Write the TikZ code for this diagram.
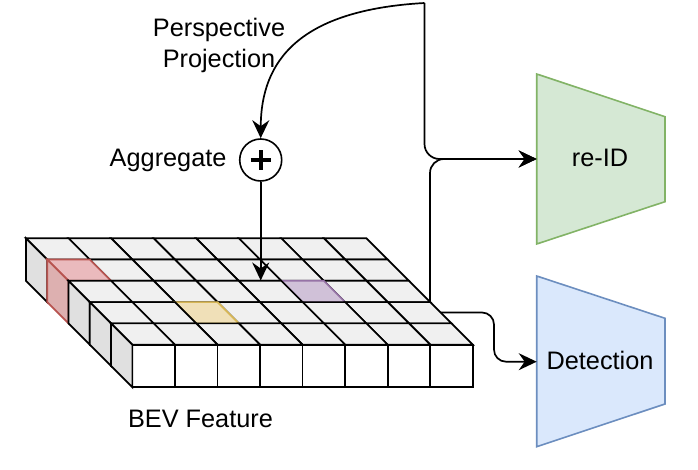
\documentclass[tikz,border=0pt]{standalone}
\usepackage{fontspec}
\setmainfont{Liberation Sans}
\usetikzlibrary{arrows.meta}
\definecolor{topgrey}{RGB}{240,240,240}
\definecolor{sidegrey}{RGB}{224,224,224}
\definecolor{redfill}{RGB}{234,186,189}
\definecolor{redside}{RGB}{221,176,176}
\definecolor{redline}{RGB}{184,84,80}
\definecolor{yelfill}{RGB}{240,224,184}
\definecolor{yelline}{RGB}{214,182,86}
\definecolor{purfill}{RGB}{208,193,216}
\definecolor{purline}{RGB}{150,115,166}
\definecolor{grnfill}{RGB}{213,232,212}
\definecolor{grnline}{RGB}{130,179,102}
\definecolor{blufill}{RGB}{218,232,252}
\definecolor{bluline}{RGB}{108,142,191}
\tikzset{
  cubeline/.style={draw=black,line width=1.7pt},
  topface/.style={cubeline,fill=topgrey},
  sideface/.style={cubeline,fill=sidegrey},
  frontface/.style={cubeline,fill=white},
  conn/.style={draw=black,line width=1.7pt},
  tip/.style={-{Stealth[length=18pt,width=17pt,inset=6pt]}},
  lbl/.style={font=\fontsize{25.3}{30.7}\selectfont,inner sep=0pt},
  headbox/.style={line width=1.6pt},
}
\begin{document}
\begin{tikzpicture}[x=1pt,y=-1pt]
\useasboundingbox (0,0) rectangle (698,470);
% ---------- BEV grid ----------
\def\cubesz{42.55}
\def\cubedd{21.27}
\foreach \row in {0,...,4}{
  \pgfmathsetmacro\ox{26+21.27*\row}
  \pgfmathsetmacro\oy{238.3+21.27*\row}
  \foreach \col in {0,...,7}{
    \draw[frontface] (\ox+\cubedd+\cubesz*\col,\oy+\cubedd) rectangle ++(\cubesz,\cubesz);
  }
  \foreach \col in {7,6,...,0}{
    \def\sty{topface}
    \ifnum\row=1 \ifnum\col=0 \def\sty{topface,fill=redfill,draw=redline}\fi\fi
    \ifnum\row=3 \ifnum\col=2 \def\sty{topface,fill=yelfill,draw=yelline}\fi\fi
    \ifnum\row=2 \ifnum\col=5 \def\sty{topface,fill=purfill,draw=purline}\fi\fi
    \expandafter\draw\expandafter[\sty] (\ox+\cubesz*\col,\oy) -- ++(\cubesz,0) -- ++(\cubedd,\cubedd) -- ++(-\cubesz,0) -- cycle;
  }
  \ifnum\row=1
    \draw[sideface,fill=redside,draw=redline] (\ox,\oy) -- ++(\cubedd,\cubedd) -- ++(0,\cubesz) -- ++(-\cubedd,-\cubedd) -- cycle;
  \else
    \draw[sideface] (\ox,\oy) -- ++(\cubedd,\cubedd) -- ++(0,\cubesz) -- ++(-\cubedd,-\cubedd) -- cycle;
  \fi
}
\node[lbl,anchor=base] (bevlbl) at (200.5,427) {BEV Feature};
% ---------- heads ----------
\draw[headbox,fill=grnfill,draw=grnline] (536.7,74) -- (665,116.7) -- (665,201.7) -- (536.7,244) -- cycle;
\draw[headbox,fill=blufill,draw=bluline] (536.7,276) -- (665,318.3) -- (665,404) -- (536.7,446.7) -- cycle;
\node[lbl,anchor=base] (reid) at (600,167) {re-ID};
\node[lbl,anchor=base] (det) at (600,369.3) {Detection};
\coordinate (reidin) at (536.7,159);
\coordinate (detin) at (536.7,361.7);
% ---------- aggregate ----------
\node[circle,draw,line width=1.6pt,minimum size=42pt,inner sep=0pt] (plus) at (260.7,160) {};
\draw[line width=3.8pt] ([xshift=-10pt]plus.center) -- ([xshift=10pt]plus.center);
\draw[line width=3.8pt] ([yshift=-10pt]plus.center) -- ([yshift=10pt]plus.center);
\node[lbl,anchor=base east] (agg) at (226.7,166.7) {Aggregate};
\node[lbl,anchor=base] (persp1) at (219,36.7) {Perspective};
\node[lbl,anchor=base] (persp2) at (219,67.3) {Projection};
% ---------- connectors ----------
\coordinate (src) at (424.5,3);
\coordinate (gridhit) at (260.7,280.5);
\coordinate (gridtap) at (430,301.7);
\coordinate (gridout) at (441,312.5);
\coordinate (detbend) at (494,312.5);
\draw[conn,tip] (src) .. controls (300,10) and (261,60) .. (plus.north);
\draw[conn,tip,rounded corners=15pt] (src) |- (reidin);
\draw[conn,tip,rounded corners=14pt] (gridtap) |- (reidin);
\draw[conn,tip] (plus.south) -- (gridhit);
\draw[conn,tip,rounded corners=12pt] (gridout) -- (detbend) |- (detin);
\end{tikzpicture}
\end{document}
